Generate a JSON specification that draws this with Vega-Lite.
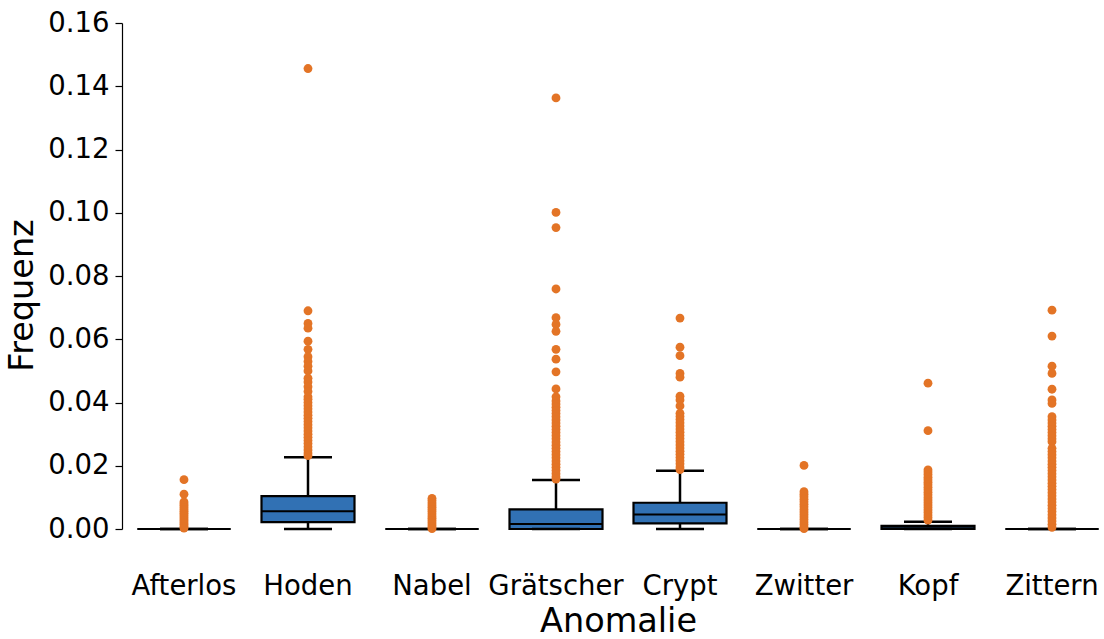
{
  "$schema": "https://vega.github.io/schema/vega-lite/v6.json",
  "autosize": {"type": "none"},
  "padding": {"left": 122, "top": 23, "right": 0, "bottom": 110},
  "width": 992,
  "height": 506,
  "background": "white",
  "config": {
    "view": {"stroke": null},
    "font": "DejaVu Sans",
    "axis": {"labelFont": "DejaVu Sans", "titleFont": "DejaVu Sans", "labelColor": "black", "titleColor": "black", "titleFontWeight": "normal", "grid": false}
  },
  "datasets": {
    "boxes": [
      {"Anomalie": "Afterlos", "lower": 0, "q1": 0, "median": 0, "q3": 0, "upper": 0},
      {"Anomalie": "Hoden", "lower": 0, "q1": 0.0022, "median": 0.0056, "q3": 0.0104, "upper": 0.0227},
      {"Anomalie": "Nabel", "lower": 0, "q1": 0, "median": 0, "q3": 0, "upper": 0},
      {"Anomalie": "Grätscher", "lower": 0, "q1": 0, "median": 0.0016, "q3": 0.0062, "upper": 0.0155},
      {"Anomalie": "Crypt", "lower": 0, "q1": 0.0018, "median": 0.0046, "q3": 0.0083, "upper": 0.0184},
      {"Anomalie": "Zwitter", "lower": 0, "q1": 0, "median": 0, "q3": 0, "upper": 0},
      {"Anomalie": "Kopf", "lower": 0, "q1": 0, "median": 0.0002, "q3": 0.001, "upper": 0.0023},
      {"Anomalie": "Zittern", "lower": 0, "q1": 0, "median": 0, "q3": 0, "upper": 0}
    ],
    "outliers": [
      {"Anomalie": "Afterlos", "Frequenz": 0.0156},
      {"Anomalie": "Afterlos", "Frequenz": 0.011},
      {"Anomalie": "Afterlos", "Frequenz": 0.0086},
      {"Anomalie": "Afterlos", "Frequenz": 0.008},
      {"Anomalie": "Afterlos", "Frequenz": 0.0074},
      {"Anomalie": "Afterlos", "Frequenz": 0.0068},
      {"Anomalie": "Afterlos", "Frequenz": 0.0062},
      {"Anomalie": "Afterlos", "Frequenz": 0.0056},
      {"Anomalie": "Afterlos", "Frequenz": 0.005},
      {"Anomalie": "Afterlos", "Frequenz": 0.0044},
      {"Anomalie": "Afterlos", "Frequenz": 0.0038},
      {"Anomalie": "Afterlos", "Frequenz": 0.0032},
      {"Anomalie": "Afterlos", "Frequenz": 0.0026},
      {"Anomalie": "Afterlos", "Frequenz": 0.002},
      {"Anomalie": "Afterlos", "Frequenz": 0.0014},
      {"Anomalie": "Afterlos", "Frequenz": 0.0008},
      {"Anomalie": "Afterlos", "Frequenz": 0.0003},
      {"Anomalie": "Hoden", "Frequenz": 0.1456},
      {"Anomalie": "Hoden", "Frequenz": 0.069},
      {"Anomalie": "Hoden", "Frequenz": 0.065},
      {"Anomalie": "Hoden", "Frequenz": 0.0635},
      {"Anomalie": "Hoden", "Frequenz": 0.0594},
      {"Anomalie": "Hoden", "Frequenz": 0.0568},
      {"Anomalie": "Hoden", "Frequenz": 0.0545},
      {"Anomalie": "Hoden", "Frequenz": 0.053},
      {"Anomalie": "Hoden", "Frequenz": 0.0515},
      {"Anomalie": "Hoden", "Frequenz": 0.05},
      {"Anomalie": "Hoden", "Frequenz": 0.0477},
      {"Anomalie": "Hoden", "Frequenz": 0.0465},
      {"Anomalie": "Hoden", "Frequenz": 0.045},
      {"Anomalie": "Hoden", "Frequenz": 0.0435},
      {"Anomalie": "Hoden", "Frequenz": 0.0418},
      {"Anomalie": "Hoden", "Frequenz": 0.041},
      {"Anomalie": "Hoden", "Frequenz": 0.04},
      {"Anomalie": "Hoden", "Frequenz": 0.039},
      {"Anomalie": "Hoden", "Frequenz": 0.038},
      {"Anomalie": "Hoden", "Frequenz": 0.037},
      {"Anomalie": "Hoden", "Frequenz": 0.036},
      {"Anomalie": "Hoden", "Frequenz": 0.035},
      {"Anomalie": "Hoden", "Frequenz": 0.034},
      {"Anomalie": "Hoden", "Frequenz": 0.033},
      {"Anomalie": "Hoden", "Frequenz": 0.032},
      {"Anomalie": "Hoden", "Frequenz": 0.031},
      {"Anomalie": "Hoden", "Frequenz": 0.03},
      {"Anomalie": "Hoden", "Frequenz": 0.029},
      {"Anomalie": "Hoden", "Frequenz": 0.028},
      {"Anomalie": "Hoden", "Frequenz": 0.027},
      {"Anomalie": "Hoden", "Frequenz": 0.026},
      {"Anomalie": "Hoden", "Frequenz": 0.025},
      {"Anomalie": "Hoden", "Frequenz": 0.024},
      {"Anomalie": "Hoden", "Frequenz": 0.0232},
      {"Anomalie": "Nabel", "Frequenz": 0.0097},
      {"Anomalie": "Nabel", "Frequenz": 0.009},
      {"Anomalie": "Nabel", "Frequenz": 0.0083},
      {"Anomalie": "Nabel", "Frequenz": 0.0076},
      {"Anomalie": "Nabel", "Frequenz": 0.0069},
      {"Anomalie": "Nabel", "Frequenz": 0.0062},
      {"Anomalie": "Nabel", "Frequenz": 0.0055},
      {"Anomalie": "Nabel", "Frequenz": 0.0048},
      {"Anomalie": "Nabel", "Frequenz": 0.0041},
      {"Anomalie": "Nabel", "Frequenz": 0.0034},
      {"Anomalie": "Nabel", "Frequenz": 0.0027},
      {"Anomalie": "Nabel", "Frequenz": 0.002},
      {"Anomalie": "Nabel", "Frequenz": 0.0013},
      {"Anomalie": "Nabel", "Frequenz": 0.0006},
      {"Anomalie": "Nabel", "Frequenz": 0.0001},
      {"Anomalie": "Grätscher", "Frequenz": 0.1363},
      {"Anomalie": "Grätscher", "Frequenz": 0.1001},
      {"Anomalie": "Grätscher", "Frequenz": 0.0953},
      {"Anomalie": "Grätscher", "Frequenz": 0.0759},
      {"Anomalie": "Grätscher", "Frequenz": 0.0668},
      {"Anomalie": "Grätscher", "Frequenz": 0.0647},
      {"Anomalie": "Grätscher", "Frequenz": 0.0625},
      {"Anomalie": "Grätscher", "Frequenz": 0.0568},
      {"Anomalie": "Grätscher", "Frequenz": 0.0537},
      {"Anomalie": "Grätscher", "Frequenz": 0.0497},
      {"Anomalie": "Grätscher", "Frequenz": 0.0443},
      {"Anomalie": "Grätscher", "Frequenz": 0.0418},
      {"Anomalie": "Grätscher", "Frequenz": 0.0405},
      {"Anomalie": "Grätscher", "Frequenz": 0.0395},
      {"Anomalie": "Grätscher", "Frequenz": 0.0385},
      {"Anomalie": "Grätscher", "Frequenz": 0.0375},
      {"Anomalie": "Grätscher", "Frequenz": 0.0365},
      {"Anomalie": "Grätscher", "Frequenz": 0.0355},
      {"Anomalie": "Grätscher", "Frequenz": 0.0345},
      {"Anomalie": "Grätscher", "Frequenz": 0.0335},
      {"Anomalie": "Grätscher", "Frequenz": 0.0325},
      {"Anomalie": "Grätscher", "Frequenz": 0.0315},
      {"Anomalie": "Grätscher", "Frequenz": 0.0305},
      {"Anomalie": "Grätscher", "Frequenz": 0.0295},
      {"Anomalie": "Grätscher", "Frequenz": 0.0285},
      {"Anomalie": "Grätscher", "Frequenz": 0.0275},
      {"Anomalie": "Grätscher", "Frequenz": 0.0265},
      {"Anomalie": "Grätscher", "Frequenz": 0.0255},
      {"Anomalie": "Grätscher", "Frequenz": 0.0245},
      {"Anomalie": "Grätscher", "Frequenz": 0.0235},
      {"Anomalie": "Grätscher", "Frequenz": 0.0225},
      {"Anomalie": "Grätscher", "Frequenz": 0.0215},
      {"Anomalie": "Grätscher", "Frequenz": 0.0205},
      {"Anomalie": "Grätscher", "Frequenz": 0.0195},
      {"Anomalie": "Grätscher", "Frequenz": 0.0185},
      {"Anomalie": "Grätscher", "Frequenz": 0.0175},
      {"Anomalie": "Grätscher", "Frequenz": 0.0165},
      {"Anomalie": "Grätscher", "Frequenz": 0.0158},
      {"Anomalie": "Crypt", "Frequenz": 0.0667},
      {"Anomalie": "Crypt", "Frequenz": 0.0575},
      {"Anomalie": "Crypt", "Frequenz": 0.0548},
      {"Anomalie": "Crypt", "Frequenz": 0.0492},
      {"Anomalie": "Crypt", "Frequenz": 0.048},
      {"Anomalie": "Crypt", "Frequenz": 0.042},
      {"Anomalie": "Crypt", "Frequenz": 0.0408},
      {"Anomalie": "Crypt", "Frequenz": 0.0389},
      {"Anomalie": "Crypt", "Frequenz": 0.0366},
      {"Anomalie": "Crypt", "Frequenz": 0.0356},
      {"Anomalie": "Crypt", "Frequenz": 0.0346},
      {"Anomalie": "Crypt", "Frequenz": 0.0336},
      {"Anomalie": "Crypt", "Frequenz": 0.0326},
      {"Anomalie": "Crypt", "Frequenz": 0.0316},
      {"Anomalie": "Crypt", "Frequenz": 0.0306},
      {"Anomalie": "Crypt", "Frequenz": 0.0296},
      {"Anomalie": "Crypt", "Frequenz": 0.0286},
      {"Anomalie": "Crypt", "Frequenz": 0.0276},
      {"Anomalie": "Crypt", "Frequenz": 0.0266},
      {"Anomalie": "Crypt", "Frequenz": 0.0256},
      {"Anomalie": "Crypt", "Frequenz": 0.0246},
      {"Anomalie": "Crypt", "Frequenz": 0.0236},
      {"Anomalie": "Crypt", "Frequenz": 0.0226},
      {"Anomalie": "Crypt", "Frequenz": 0.0216},
      {"Anomalie": "Crypt", "Frequenz": 0.0206},
      {"Anomalie": "Crypt", "Frequenz": 0.0196},
      {"Anomalie": "Crypt", "Frequenz": 0.0188},
      {"Anomalie": "Zwitter", "Frequenz": 0.0201},
      {"Anomalie": "Zwitter", "Frequenz": 0.0118},
      {"Anomalie": "Zwitter", "Frequenz": 0.011},
      {"Anomalie": "Zwitter", "Frequenz": 0.0102},
      {"Anomalie": "Zwitter", "Frequenz": 0.0094},
      {"Anomalie": "Zwitter", "Frequenz": 0.0086},
      {"Anomalie": "Zwitter", "Frequenz": 0.0078},
      {"Anomalie": "Zwitter", "Frequenz": 0.007},
      {"Anomalie": "Zwitter", "Frequenz": 0.0062},
      {"Anomalie": "Zwitter", "Frequenz": 0.0054},
      {"Anomalie": "Zwitter", "Frequenz": 0.0046},
      {"Anomalie": "Zwitter", "Frequenz": 0.0038},
      {"Anomalie": "Zwitter", "Frequenz": 0.003},
      {"Anomalie": "Zwitter", "Frequenz": 0.0022},
      {"Anomalie": "Zwitter", "Frequenz": 0.0014},
      {"Anomalie": "Zwitter", "Frequenz": 0.0006},
      {"Anomalie": "Zwitter", "Frequenz": 0.0001},
      {"Anomalie": "Kopf", "Frequenz": 0.0461},
      {"Anomalie": "Kopf", "Frequenz": 0.0311},
      {"Anomalie": "Kopf", "Frequenz": 0.0187},
      {"Anomalie": "Kopf", "Frequenz": 0.018},
      {"Anomalie": "Kopf", "Frequenz": 0.0172},
      {"Anomalie": "Kopf", "Frequenz": 0.0164},
      {"Anomalie": "Kopf", "Frequenz": 0.0156},
      {"Anomalie": "Kopf", "Frequenz": 0.0148},
      {"Anomalie": "Kopf", "Frequenz": 0.014},
      {"Anomalie": "Kopf", "Frequenz": 0.0132},
      {"Anomalie": "Kopf", "Frequenz": 0.0124},
      {"Anomalie": "Kopf", "Frequenz": 0.0116},
      {"Anomalie": "Kopf", "Frequenz": 0.0108},
      {"Anomalie": "Kopf", "Frequenz": 0.01},
      {"Anomalie": "Kopf", "Frequenz": 0.0092},
      {"Anomalie": "Kopf", "Frequenz": 0.0084},
      {"Anomalie": "Kopf", "Frequenz": 0.0076},
      {"Anomalie": "Kopf", "Frequenz": 0.0068},
      {"Anomalie": "Kopf", "Frequenz": 0.006},
      {"Anomalie": "Kopf", "Frequenz": 0.0052},
      {"Anomalie": "Kopf", "Frequenz": 0.0044},
      {"Anomalie": "Kopf", "Frequenz": 0.0036},
      {"Anomalie": "Kopf", "Frequenz": 0.0028},
      {"Anomalie": "Zittern", "Frequenz": 0.0692},
      {"Anomalie": "Zittern", "Frequenz": 0.061},
      {"Anomalie": "Zittern", "Frequenz": 0.0515},
      {"Anomalie": "Zittern", "Frequenz": 0.0492},
      {"Anomalie": "Zittern", "Frequenz": 0.0442},
      {"Anomalie": "Zittern", "Frequenz": 0.0408},
      {"Anomalie": "Zittern", "Frequenz": 0.0397},
      {"Anomalie": "Zittern", "Frequenz": 0.0355},
      {"Anomalie": "Zittern", "Frequenz": 0.0345},
      {"Anomalie": "Zittern", "Frequenz": 0.0335},
      {"Anomalie": "Zittern", "Frequenz": 0.0325},
      {"Anomalie": "Zittern", "Frequenz": 0.0315},
      {"Anomalie": "Zittern", "Frequenz": 0.0305},
      {"Anomalie": "Zittern", "Frequenz": 0.0295},
      {"Anomalie": "Zittern", "Frequenz": 0.0285},
      {"Anomalie": "Zittern", "Frequenz": 0.0276},
      {"Anomalie": "Zittern", "Frequenz": 0.0255},
      {"Anomalie": "Zittern", "Frequenz": 0.0245},
      {"Anomalie": "Zittern", "Frequenz": 0.0235},
      {"Anomalie": "Zittern", "Frequenz": 0.0225},
      {"Anomalie": "Zittern", "Frequenz": 0.0215},
      {"Anomalie": "Zittern", "Frequenz": 0.0205},
      {"Anomalie": "Zittern", "Frequenz": 0.0195},
      {"Anomalie": "Zittern", "Frequenz": 0.0185},
      {"Anomalie": "Zittern", "Frequenz": 0.0175},
      {"Anomalie": "Zittern", "Frequenz": 0.0165},
      {"Anomalie": "Zittern", "Frequenz": 0.0155},
      {"Anomalie": "Zittern", "Frequenz": 0.0145},
      {"Anomalie": "Zittern", "Frequenz": 0.0135},
      {"Anomalie": "Zittern", "Frequenz": 0.0125},
      {"Anomalie": "Zittern", "Frequenz": 0.0115},
      {"Anomalie": "Zittern", "Frequenz": 0.0105},
      {"Anomalie": "Zittern", "Frequenz": 0.0095},
      {"Anomalie": "Zittern", "Frequenz": 0.0085},
      {"Anomalie": "Zittern", "Frequenz": 0.0075},
      {"Anomalie": "Zittern", "Frequenz": 0.0065},
      {"Anomalie": "Zittern", "Frequenz": 0.0055},
      {"Anomalie": "Zittern", "Frequenz": 0.0045},
      {"Anomalie": "Zittern", "Frequenz": 0.0035},
      {"Anomalie": "Zittern", "Frequenz": 0.0025},
      {"Anomalie": "Zittern", "Frequenz": 0.0015},
      {"Anomalie": "Zittern", "Frequenz": 0.0005}
    ]
  },
  "encoding": {
    "x": {
      "field": "Anomalie",
      "type": "nominal",
      "sort": ["Afterlos", "Hoden", "Nabel", "Grätscher", "Crypt", "Zwitter", "Kopf", "Zittern"],
      "scale": {"paddingInner": 0, "paddingOuter": 0},
      "axis": {"title": "Anomalie", "labelAngle": 0, "labelFontSize": 27.5, "titleFontSize": 33.5, "domain": false, "ticks": false, "labelPadding": 43, "titlePadding": 6}
    }
  },
  "layer": [
    {
      "data": {"name": "boxes"},
      "mark": {"type": "rule", "color": "black", "strokeWidth": 2.5},
      "encoding": {
        "y": {"field": "q3", "type": "quantitative", "scale": {"domain": [0, 0.16], "nice": false}, "axis": {"title": "Frequenz", "values": [0, 0.02, 0.04, 0.06, 0.08, 0.1, 0.12, 0.14, 0.16], "format": ".2f", "labelFontSize": 27.5, "titleFontSize": 33.5, "tickSize": 7, "tickWidth": 1.2, "tickColor": "black", "domainColor": "black", "domainWidth": 1.2, "labelPadding": 6, "titlePadding": 8, "titleY": 272}},
        "y2": {"field": "upper"}
      }
    },
    {
      "data": {"name": "boxes"},
      "mark": {"type": "rule", "color": "black", "strokeWidth": 2.5},
      "encoding": {
        "y": {"field": "lower", "type": "quantitative"},
        "y2": {"field": "q1"}
      }
    },
    {
      "data": {"name": "boxes"},
      "mark": {"type": "bar", "width": {"band": 0.75}, "fill": "#3171b4", "stroke": "black", "strokeWidth": 2.2},
      "encoding": {
        "y": {"field": "q1", "type": "quantitative"},
        "y2": {"field": "q3"}
      }
    },
    {
      "data": {"name": "boxes"},
      "mark": {"type": "tick", "size": 93, "thickness": 2, "color": "black", "opacity": 1},
      "encoding": {
        "y": {"field": "median", "type": "quantitative"}
      }
    },
    {
      "data": {"name": "boxes"},
      "mark": {"type": "tick", "size": 48, "thickness": 2.5, "color": "black", "opacity": 1},
      "encoding": {
        "y": {"field": "upper", "type": "quantitative"}
      }
    },
    {
      "data": {"name": "boxes"},
      "mark": {"type": "tick", "size": 48, "thickness": 2.5, "color": "black", "opacity": 1},
      "encoding": {
        "y": {"field": "lower", "type": "quantitative"}
      }
    },
    {
      "data": {"name": "outliers"},
      "mark": {"type": "circle", "size": 78, "color": "#e37426", "opacity": 1},
      "encoding": {
        "y": {"field": "Frequenz", "type": "quantitative"}
      }
    }
  ]
}
